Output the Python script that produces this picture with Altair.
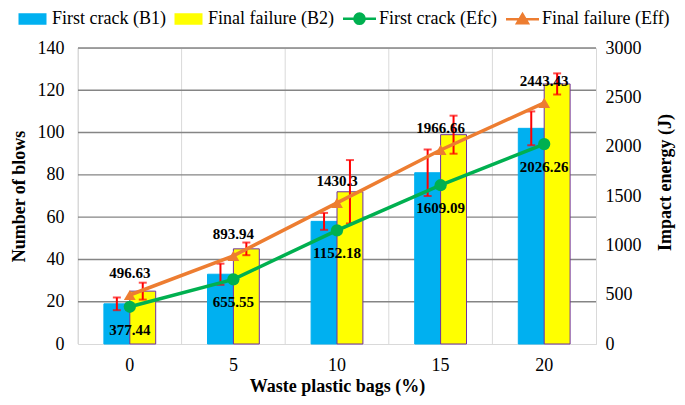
import altair as alt
import pandas as pd

# ---- data ----
bags = [0, 5, 10, 15, 20]
b1 = [19, 33, 58, 81, 102]          # first crack blows
b2 = [25, 45, 72, 99, 123]          # final failure blows
b1_err = [3, 5, 4, 11, 8]
b2_err = [4, 3, 15, 9, 5]
efc = [377.44, 655.55, 1152.18, 1609.09, 2026.26]
eff = [496.63, 893.94, 1430.3, 1966.66, 2443.43]
left_ticks = [0, 20, 40, 60, 80, 100, 120, 140]
right_ticks = [0, 500, 1000, 1500, 2000, 2500, 3000]

series = ["First crack (B1)", "Final failure (B2)", "First crack (Efc)", "Final failure (Eff)"]
fills = ["#00B0F0", "#FFFF00", "#00B050", "#ED7D31"]
strokes = ["#00B0F0", "#7030A0", "#00B050", "#ED7D31"]
legend_shapes = [
    "M-0.85,-0.3H0.85V0.3H-0.85Z",
    "M-0.85,-0.3H0.85V0.3H-0.85Z",
    "M-1.1,0H1.1M0.34,0A0.34,0.34,0,1,1,-0.34,0A0.34,0.34,0,1,1,0.34,0Z",
    "M-1.1,0H1.1M0,-0.34L0.36,0.26L-0.36,0.26Z",
]

FONT = "Liberation Serif"

bars_df = pd.DataFrame({
    "bags": bags * 2,
    "series": [series[0]] * 5 + [series[1]] * 5,
    "value": b1 + b2,
    "err": b1_err + b2_err,
})
bars_df["lo"] = bars_df["value"] - bars_df["err"]
bars_df["hi"] = bars_df["value"] + bars_df["err"]

lines_df = pd.DataFrame({
    "bags": bags * 2,
    "series": [series[2]] * 5 + [series[3]] * 5,
    "energy": efc + eff,
    "label": [str(v) for v in efc + eff],
})
grid_df = pd.DataFrame({"bags": bags})
hgrid_df = pd.DataFrame({"tick": [t for t in left_ticks if t > 0]})

x_axis = alt.Axis(title="Waste plastic bags (%)", labelAngle=0, ticks=False,
                  domainColor="#D9D9D9", domainWidth=1, labelFontSize=18,
                  labelPadding=12, titleFontSize=18, titleFontWeight="bold",
                  titlePadding=3, grid=False)
x_scale = alt.Scale(paddingInner=0, paddingOuter=0)


def xenc():
    return alt.X("bags:O", sort=bags, scale=x_scale, axis=x_axis)


xoff = alt.XOffset("series:N", sort=series[:2],
                   scale=alt.Scale(domain=series[:2], paddingInner=0, paddingOuter=1))

color_scale = alt.Scale(domain=series, range=fills)
stroke_scale = alt.Scale(domain=series, range=strokes)
shape_scale = alt.Scale(domain=series, range=legend_shapes)

leg = alt.Legend(title=None, orient="none", legendX=-62, legendY=-46,
                 direction="horizontal", columns=4, symbolSize=900,
                 symbolStrokeWidth=2.5, symbolOpacity=1, labelFont=FONT,
                 labelFontSize=18, labelColor="black", labelOffset=3,
                 columnPadding=4, labelLimit=300)

left_scale = alt.Scale(domain=[0, 140])
left_axis = alt.Axis(title="Number of blows", values=left_ticks,
                     ticks=False, domain=False, labelFontSize=18, labelPadding=14,
                     titleFontSize=18, titleFontWeight="bold", titlePadding=9,
                     grid=False)


def yleft(field):
    return alt.Y(field, scale=left_scale, axis=left_axis)


def col():
    return alt.Color("series:N", scale=color_scale, legend=leg)


legend_layer = alt.Chart(bars_df).mark_point(filled=True, opacity=0).encode(
    x=xenc(),
    y=yleft("value:Q"),
    color=col(),
    stroke=alt.Stroke("series:N", scale=stroke_scale, legend=leg),
    shape=alt.Shape("series:N", scale=shape_scale, legend=leg),
)

vgrid = alt.Chart(grid_df).mark_rule(color="#D9D9D9", strokeWidth=1).encode(
    x=alt.X("bags:O", sort=bags, bandPosition=0, scale=x_scale, axis=x_axis)
)
hgrid = alt.Chart(hgrid_df).mark_rule(color="#858585", strokeWidth=1.4).encode(
    y=yleft("tick:Q")
)

bars = alt.Chart(bars_df).mark_bar(strokeWidth=1).encode(
    x=xenc(), xOffset=xoff,
    y=yleft("value:Q"),
    color=col(),
    stroke=alt.Stroke("series:N", scale=stroke_scale, legend=leg),
)

err_rule = alt.Chart(bars_df).mark_rule(color="#FF0000", strokeWidth=2).encode(
    x=xenc(), xOffset=xoff, y=yleft("lo:Q"), y2="hi:Q",
)
err_lo = alt.Chart(bars_df).mark_tick(color="#FF0000", thickness=2, size=8,
                                      orient="horizontal").encode(
    x=xenc(), xOffset=xoff, y=yleft("lo:Q"))
err_hi = alt.Chart(bars_df).mark_tick(color="#FF0000", thickness=2, size=8,
                                      orient="horizontal").encode(
    x=xenc(), xOffset=xoff, y=yleft("hi:Q"))

left = alt.layer(legend_layer, vgrid, hgrid, bars, err_rule, err_lo, err_hi)

right_scale = alt.Scale(domain=[0, 3000])
right_axis = alt.Axis(title="Impact energy (J)", orient="right", format="d",
                      values=right_ticks, ticks=False, domain=False,
                      grid=False, labelFontSize=18, labelPadding=9,
                      titleFontSize=18, titleFontWeight="bold",
                      titleAngle=270, titleX=69, titleY=134,
                      titleAlign="center", titleBaseline="middle")


def yright():
    return alt.Y("energy:Q", scale=right_scale, axis=right_axis)


lines = alt.Chart(lines_df).mark_line(strokeWidth=3.5).encode(
    x=xenc(), y=yright(), color=col(), detail="series:N",
)
pts_fc = alt.Chart(lines_df).transform_filter(
    alt.datum.series == series[2]
).mark_point(filled=True, shape="circle", size=150, opacity=1, color=fills[2]).encode(
    x=xenc(), y=yright())
pts_ff = alt.Chart(lines_df).transform_filter(
    alt.datum.series == series[3]
).mark_point(filled=True, shape="triangle-up", size=140, opacity=1, color=fills[3]).encode(
    x=xenc(), y=yright())

txt_fc = alt.Chart(lines_df).transform_filter(
    alt.datum.series == series[2]
).mark_text(font=FONT, fontSize=15, fontWeight="bold", color="black", dy=23,
            baseline="middle").encode(x=xenc(), y=yright(), text="label:N")
txt_ff = alt.Chart(lines_df).transform_filter(
    alt.datum.series == series[3]
).mark_text(font=FONT, fontSize=15, fontWeight="bold", color="black", dy=-22,
            baseline="middle").encode(x=xenc(), y=yright(), text="label:N")

right = alt.layer(lines, pts_fc, pts_ff, txt_fc, txt_ff)

chart = alt.layer(left, right).resolve_scale(y="independent").properties(
    width=518, height=296, background="white",
    autosize=alt.AutoSizeParams(type="none"),
    padding={"left": 70, "top": 40, "right": 81, "bottom": 53},
).configure(
    font=FONT,
    style={"guide-label": {"font": FONT, "fontSize": 18, "fill": "black"}},
).configure_view(stroke="#D9D9D9", strokeWidth=1).configure_axis(
    labelFont=FONT, titleFont=FONT, labelColor="black", titleColor="black"
).configure_legend(labelFont=FONT, labelFontSize=18, labelColor="black")

chart.save("out.html", embed_options={"renderer": "svg", "actions": False})
